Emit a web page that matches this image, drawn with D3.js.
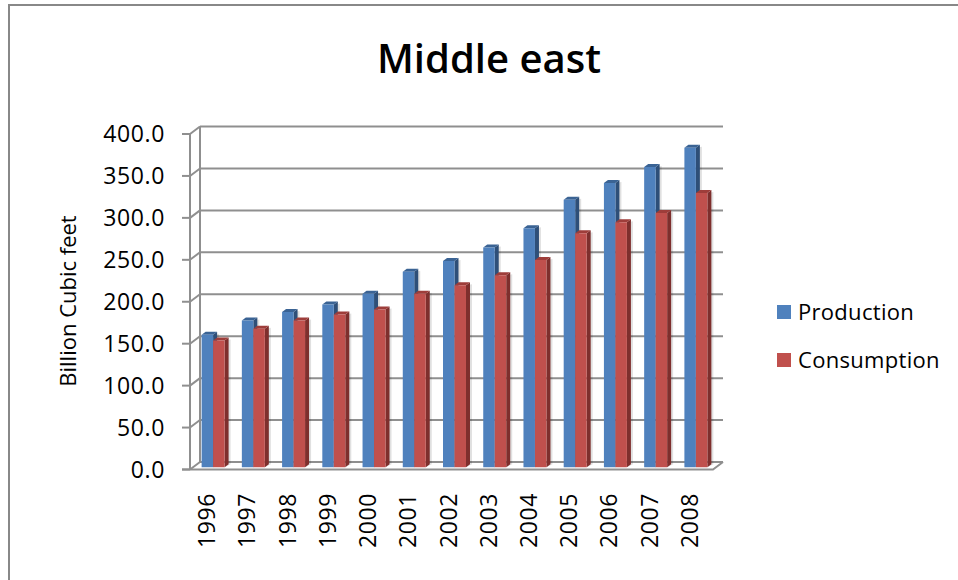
<!DOCTYPE html>
<html>
<head>
<meta charset="utf-8">
<script src="https://cdn.jsdelivr.net/npm/d3@7"></script>
<style>
  html, body { margin: 0; padding: 0; background: #fff; }
  svg { display: block; }
  text { font-family: "Open Sans", "Noto Sans", sans-serif; fill: #000; }
</style>
</head>
<body>
<svg id="chart" width="958" height="580"></svg>
<script>
// ---- data ----
const years = ["1996","1997","1998","1999","2000","2001","2002","2003","2004","2005","2006","2007","2008"];
const production  = [158, 175, 185, 194, 207, 233, 246, 262, 285, 319, 339, 358, 381];
const consumption = [151, 165, 175, 182, 188, 207, 217, 229, 247, 279, 292, 303, 327];
const seriesNames = ["Production", "Consumption"];
const yTicks = [0, 50, 100, 150, 200, 250, 300, 350, 400];
const titleText = "Middle east";
const yAxisTitle = "Billion Cubic feet";

// ---- styles ----
const colors = {
  Production:  { front: "#4F81BD", top: "#3A6394", side: "#2E4F78" },
  Consumption: { front: "#C0504D", top: "#9E3D3A", side: "#7E2F2D" }
};

const svg = d3.select("#chart");

// chart frame
svg.append("rect").attr("x", 9).attr("y", 5).attr("width", 1000).attr("height", 700)
  .attr("fill", "#fff").attr("stroke", "#888").attr("stroke-width", 2);

// ---- pseudo-3D geometry ----
const depth = { dx: 10, dy: -7.5 };
const x = d3.scaleBand().domain(years).range([190, 713]).paddingInner(0.4286).paddingOuter(0.2143);
const xs = d3.scaleBand().domain(seriesNames).range([0, x.bandwidth()]);
const y = d3.scaleLinear().domain([0, 400]).range([469.5, 134]);
const P = (px, v, t) => [px + t * depth.dx, y(v) + t * depth.dy];

const g = svg.append("g");
const gridColor = "#8F8F8F";

// back wall gridlines
const x0 = x.range()[0], x1 = x.range()[1];
yTicks.forEach(v => {
  const a = P(x0, v, 1), b = P(x1, v, 1);
  g.append("line").attr("x1", a[0]).attr("y1", a[1]).attr("x2", b[0]).attr("y2", b[1])
    .attr("stroke", gridColor).attr("stroke-width", 2);
  // side wall diagonal
  const c = P(x0, v, 0);
  g.append("line").attr("x1", c[0]).attr("y1", c[1]).attr("x2", a[0]).attr("y2", a[1])
    .attr("stroke", gridColor).attr("stroke-width", 2);
});
// back wall left edge
{
  const a = P(x0, 0, 1), b = P(x0, 400, 1);
  g.append("line").attr("x1", a[0]).attr("y1", a[1]).attr("x2", b[0]).attr("y2", b[1])
    .attr("stroke", gridColor).attr("stroke-width", 2);
}
// floor front edge + right diagonal
{
  const a = P(x0 - 8, 0, 0), b = P(x1, 0, 0), c = P(x1, 0, 1);
  g.append("path").attr("d", `M${a}L${b}L${c}`).attr("fill", "none")
    .attr("stroke", gridColor).attr("stroke-width", 2);
}
// front vertical axis
{
  const a = P(x0, 0, 0), b = P(x0, 400, 0);
  g.append("line").attr("x1", a[0]).attr("y1", a[1]).attr("x2", b[0]).attr("y2", b[1])
    .attr("stroke", gridColor).attr("stroke-width", 2);
}
// tick marks and labels
yTicks.forEach(v => {
  const c = P(x0, v, 0);
  g.append("line").attr("x1", c[0] - 8).attr("y1", c[1]).attr("x2", c[0]).attr("y2", c[1])
    .attr("stroke", gridColor).attr("stroke-width", 2);
  g.append("text").attr("x", 165).attr("y", c[1]).attr("dy", "0.35em")
    .attr("text-anchor", "end").attr("font-size", 23).attr("letter-spacing", 0.6)
    .text(d3.format(".1f")(v));
});

// ---- bars ----
const tF = 0.3, tB = 0.7;
const barData = [];
years.forEach((yr, i) => {
  barData.push({ yr, s: "Production", v: production[i] });
  barData.push({ yr, s: "Consumption", v: consumption[i] });
});
const bars = g.append("g").selectAll("g").data(barData).join("g");
bars.each(function(d) {
  const sel = d3.select(this);
  const left = x(d.yr) + xs(d.s), right = left + xs.bandwidth();
  const fl0 = P(left, 0, tF), fr0 = P(right, 0, tF), flv = P(left, d.v, tF), frv = P(right, d.v, tF);
  const blv = P(left, d.v, tB), brv = P(right, d.v, tB), br0 = P(right, 0, tB);
  const c = colors[d.s];
  // shadow
  sel.append("path").attr("d", `M${fr0[0]},${fr0[1]}L${br0[0]+2},${br0[1]}L${brv[0]+2},${brv[1]+2}L${frv[0]},${frv[1]}Z`)
    .attr("fill", "#000").attr("opacity", 0.12);
  sel.append("path").attr("d", `M${fr0}L${br0}L${brv}L${frv}Z`).attr("fill", c.side);
  sel.append("path").attr("d", `M${flv}L${frv}L${brv}L${blv}Z`).attr("fill", c.top);
  sel.append("path").attr("d", `M${fl0}L${fr0}L${frv}L${flv}Z`).attr("fill", c.front);
});

// ---- x labels ----
years.forEach(yr => {
  const cx = x(yr) + x.bandwidth() / 2 - 3;
  g.append("text").attr("transform", `translate(${cx},493) rotate(-90)`)
    .attr("text-anchor", "end").attr("dy", "0.35em").attr("font-size", 23)
    .attr("letter-spacing", 0.6).text(yr);
});

// ---- titles ----
svg.append("text").attr("x", 489).attr("y", 73).attr("text-anchor", "middle")
  .attr("font-size", 40).attr("font-weight", 600).text(titleText);
svg.append("text").attr("transform", "translate(68,301) rotate(-90)")
  .attr("text-anchor", "middle").attr("dy", "0.35em").attr("font-size", 22).text(yAxisTitle);

// ---- legend ----
const leg = svg.append("g");
seriesNames.forEach((s, i) => {
  const ly = 312 + i * 48;
  leg.append("rect").attr("x", 777).attr("y", ly - 7).attr("width", 14).attr("height", 14)
    .attr("fill", colors[s].front);
  leg.append("text").attr("x", 798).attr("y", ly).attr("dy", "0.35em").attr("font-size", 22)
    .attr("letter-spacing", 0.3).text(s);
});
</script>
</body>
</html>
